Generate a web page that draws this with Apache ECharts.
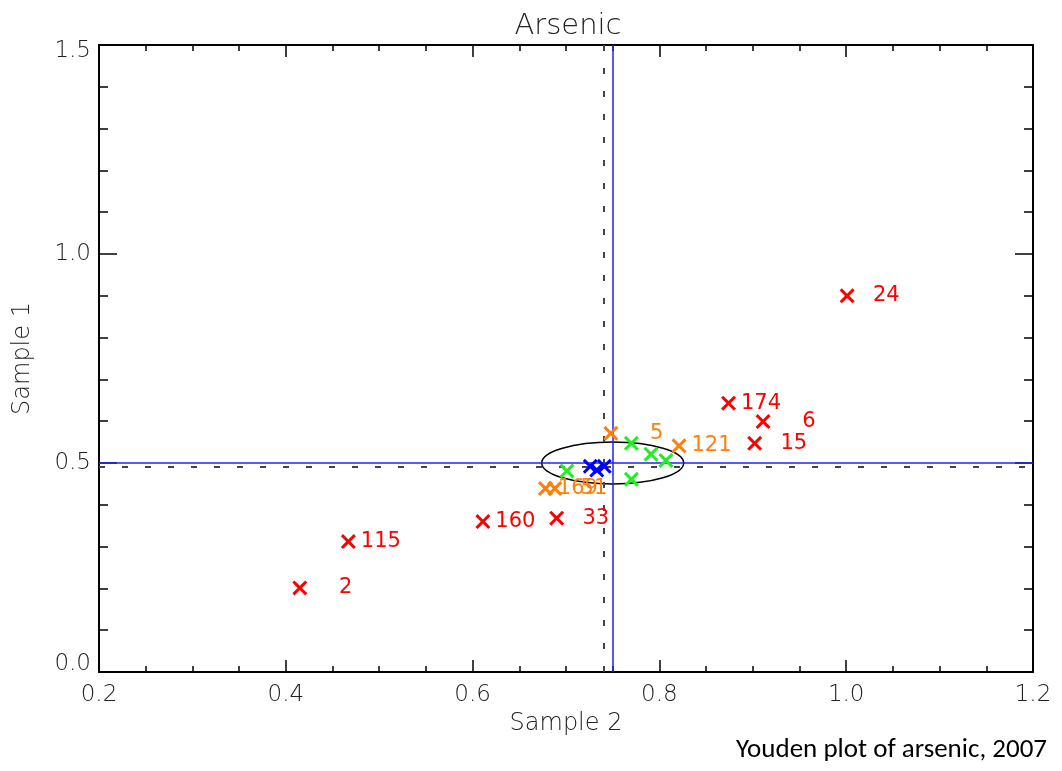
<!DOCTYPE html>
<html>
<head>
<meta charset="utf-8">
<title>Arsenic</title>
<script src="https://cdn.jsdelivr.net/npm/echarts@6/dist/echarts.min.js"></script>
<style>
  html, body { margin: 0; padding: 0; background: #fff; }
  #chart { width: 1062px; height: 771px; }
</style>
</head>
<body>
<div id="chart"></div>
<script>
// Laboratory results: Sample 2 (x) against Sample 1 (y), arsenic
const redIds  = ['2', '115', '160', '33', '174', '6', '15', '24'];
const redX    = [0.415, 0.467, 0.611, 0.690, 0.874, 0.911, 0.902, 1.001];
const redY    = [0.201, 0.312, 0.360, 0.368, 0.643, 0.599, 0.547, 0.900];

const orangeIds = ['5', '121', '169', '51'];
const orangeX   = [0.748, 0.821, 0.678, 0.688];
const orangeY   = [0.571, 0.541, 0.439, 0.439];

const greenX = [0.770, 0.791, 0.807, 0.701, 0.770];
const greenY = [0.547, 0.521, 0.506, 0.481, 0.461];

const blueX = [0.726, 0.733, 0.741];
const blueY = [0.492, 0.483, 0.492];

// assigned values (solid) and consensus medians (dashed)
const assignedX = [0.75];
const assignedY = [0.50];
const medianX = [0.74];
const medianY = [0.494];

// acceptance ellipse: centre x, centre y, half-width, half-height
const ellipse = [[0.75, 0.50, 0.076, 0.050]];

const xTicks = [0.2, 0.4, 0.6, 0.8, 1.0, 1.2];
const yTicks = [0.0, 0.5, 1.0, 1.5];

const CROSS = 'path://M0,2 L2,0 L7,5 L12,0 L14,2 L9,7 L14,12 L12,14 L7,9 L2,14 L0,12 L5,7 Z';
const AXIS_FONT = 'DejaVu Sans';

function points(xs, ys, ids) {
  return xs.map((x, i) => ({ value: [x, ys[i]], name: ids ? ids[i] : '' }));
}

function crossSeries(xs, ys, ids, color) {
  return {
    type: 'scatter',
    xAxisIndex: 0, yAxisIndex: 0,
    symbol: CROSS,
    symbolSize: 15,
    itemStyle: { color: color, opacity: 1 },
    z: 5,
    silent: true,
    label: {
      show: !!ids,
      formatter: p => p.name,
      position: [60, 7.5],
      align: 'right',
      verticalAlign: 'middle',
      color: color,
      opacity: 1,
      fontFamily: 'DejaVu Sans',
      fontSize: 21
    },
    labelLayout: { hideOverlap: false },
    data: points(xs, ys, ids)
  };
}

const tickStyle = { color: '#000', width: 1.5 };

function xAxisDef(pos, showLabels) {
  return {
    type: 'value', position: pos,
    min: xTicks[0], max: xTicks[xTicks.length - 1], interval: 0.2,
    axisLine: { show: true, onZero: false, lineStyle: { color: '#000', width: 2 } },
    axisTick: { show: true, inside: true, length: 12, lineStyle: tickStyle },
    minorTick: { show: true, splitNumber: 4, length: 6, lineStyle: tickStyle },
    splitLine: { show: false },
    axisLabel: {
      show: showLabels, margin: 12,
      formatter: v => v.toFixed(1),
      fontFamily: AXIS_FONT, fontWeight: 200, fontSize: 23, color: '#222'
    }
  };
}

function yAxisDef(pos, showLabels) {
  return {
    type: 'value', position: pos,
    min: yTicks[0], max: yTicks[yTicks.length - 1], interval: 0.5,
    axisLine: { show: true, onZero: false, lineStyle: { color: '#000', width: 2 } },
    axisTick: { show: true, inside: true, length: 18, lineStyle: tickStyle },
    minorTick: { show: true, splitNumber: 5, length: 9, lineStyle: tickStyle },
    splitLine: { show: false },
    axisLabel: {
      show: showLabels, margin: 8,
      formatter: v => {
        const t = v.toFixed(1);
        if (v === yTicks[0]) return '{lo|' + t + '}';
        if (v === yTicks[yTicks.length - 1]) return '{hi|' + t + '}';
        return t;
      },
      rich: {
        lo: { padding: [0, 0, 16, 0], fontFamily: AXIS_FONT, fontWeight: 200, fontSize: 23, color: '#222' },
        hi: { padding: [12, 0, 0, 0], fontFamily: AXIS_FONT, fontWeight: 200, fontSize: 23, color: '#222' }
      },
      fontFamily: AXIS_FONT, fontWeight: 200, fontSize: 23, color: '#222'
    }
  };
}

const xMain = xAxisDef('bottom', true);
xMain.name = 'Sample 2';
xMain.nameLocation = 'middle';
xMain.nameGap = 38;
xMain.nameTextStyle = { fontFamily: AXIS_FONT, fontWeight: 200, fontSize: 24, color: '#222' };

const yMain = yAxisDef('left', true);
yMain.name = 'Sample 1';
yMain.nameLocation = 'middle';
yMain.nameGap = 64;
yMain.nameTextStyle = { fontFamily: AXIS_FONT, fontWeight: 200, fontSize: 24, color: '#222' };

const option = {
  animation: false,
  backgroundColor: '#fff',
  title: {
    text: 'Arsenic',
    left: 563, top: 7, textAlign: 'center',
    textStyle: { fontFamily: AXIS_FONT, fontWeight: 200, fontSize: 29, color: '#222' }
  },
  graphic: [{
    type: 'text', right: 15, top: 737,
    style: { text: 'Youden plot of arsenic, 2007', font: '27px Carlito, "Open Sans", Lato', fill: '#000' }
  }],
  grid: { left: 99, right: 29, top: 45, bottom: 99 },
  xAxis: [xMain, xAxisDef('top', false)],
  yAxis: [yMain, yAxisDef('right', false)],
  series: [
    {
      type: 'scatter', xAxisIndex: 0, yAxisIndex: 0, data: [], silent: true,
      markLine: {
        silent: true, symbol: 'none', animation: false, label: { show: false },
        lineStyle: { color: '#444', width: 2, type: [6, 17], opacity: 1 },
        data: [{ xAxis: medianX[0] }, { yAxis: medianY[0] }]
      }
    },
    {
      type: 'scatter', xAxisIndex: 0, yAxisIndex: 0, data: [], silent: true,
      markLine: {
        silent: true, symbol: 'none', animation: false, label: { show: false },
        lineStyle: { color: '#2020ff', width: 1.5, type: 'solid', opacity: 1 },
        data: [{ xAxis: assignedX[0] }, { yAxis: assignedY[0] }]
      }
    },
    {
      type: 'custom', xAxisIndex: 0, yAxisIndex: 0, silent: true, z: 3,
      data: ellipse,
      renderItem: (params, api) => {
        const c = api.coord([api.value(0), api.value(1)]);
        const s = api.size([api.value(2), api.value(3)]);
        return {
          type: 'ellipse',
          shape: { cx: c[0], cy: c[1], rx: s[0], ry: s[1] },
          style: { fill: null, stroke: '#000', lineWidth: 1.5 }
        };
      }
    },
    crossSeries(redX, redY, redIds, '#ff0000'),
    crossSeries(orangeX, orangeY, orangeIds, '#ff7f0a'),
    crossSeries(greenX, greenY, null, '#22ee22'),
    crossSeries(blueX, blueY, null, '#0000ff')
  ]
};

const chart = echarts.init(document.getElementById('chart'), null, { renderer: 'canvas' });
chart.setOption(option);
</script>
</body>
</html>
